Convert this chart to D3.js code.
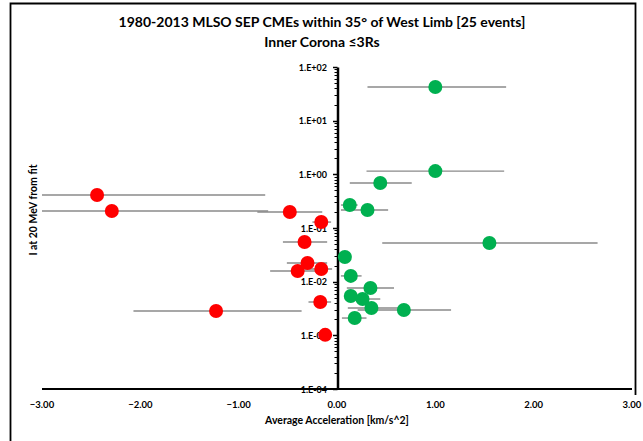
<!DOCTYPE html>
<html>
<head>
<meta charset="utf-8">
<script src="https://cdn.jsdelivr.net/npm/d3@7"></script>
<style>
html,body{margin:0;padding:0;background:#fff;}
svg{display:block;}
text{font-family:"Lato","Open Sans",sans-serif;font-weight:bold;fill:#000;}
</style>
</head>
<body>
<svg id="chart" width="643" height="441"></svg>
<script>
// Data (acceleration km/s^2, I at 20 MeV, error bar low/high in x)
const redX   = [-2.44, -2.29, -0.48, -0.16, -0.33, -0.30, -0.40, -0.16, -0.17, -1.23, -0.12];
const redY   = [0.412, 0.207, 0.199, 0.129, 0.0548, 0.0223, 0.0158, 0.0172, 0.00418, 0.00284, 0.00102];
const redLo  = [-3.00, -3.00, -0.81, -0.25, -0.55, -0.51, -0.68, -0.38, -0.29, -2.07, -0.18];
const redHi  = [-0.73, -0.70, -0.15, -0.06, -0.10, -0.10, -0.22, -0.05, -0.06, -0.36, -0.06];

const greenX  = [1.00, 1.00, 0.44, 0.13, 0.31, 1.55, 0.08, 0.14, 0.34, 0.14, 0.26, 0.35, 0.68, 0.18];
const greenY  = [42.4, 1.15, 0.69, 0.268, 0.217, 0.0526, 0.0288, 0.0128, 0.00762, 0.0054, 0.00475, 0.00324, 0.00296, 0.0021];
const greenLo = [0.31, 0.30, 0.13, 0.04, 0.04, 0.46, 0.06, 0.04, 0.10, 0.08, 0.15, 0.11, 0.21, 0.05];
const greenHi = [1.72, 1.70, 0.76, 0.21, 0.52, 2.65, 0.10, 0.25, 0.58, 0.23, 0.44, 0.62, 1.16, 0.30];

const xTicks = [-3, -2, -1, 0, 1, 2, 3];
const yTicks = [1e2, 1e1, 1e0, 1e-1, 1e-2, 1e-3, 1e-4];
const yTickLabels = ["1.E+02", "1.E+01", "1.E+00", "1.E-01", "1.E-02", "1.E-03", "1.E-04"];
const titleLines = ["1980-2013 MLSO SEP CMEs within 35° of West Limb [25 events]", "Inner Corona ≤3Rs"];
const xLabel = "Average Acceleration [km/s^2]";
const yLabel = "I at 20 MeV from fit";

const svg = d3.select("#chart");

// outer frame
svg.append("path")
  .attr("d", "M10.5,450 L10.5,3.5 L635.5,3.5 L635.5,395")
  .attr("fill", "none").attr("stroke", "#000").attr("stroke-width", 1.8);

const x = d3.scaleLinear().domain([-3, 3]).range([42, 632]);
const y = d3.scaleLog().domain([1e-4, 1e2]).range([389, 67]);

// title
svg.append("text").attr("x", 322).attr("y", 27).attr("text-anchor", "middle")
  .style("font-size", "14px").text(titleLines[0]);
svg.append("text").attr("x", 322).attr("y", 47).attr("text-anchor", "middle")
  .style("font-size", "14px").text(titleLines[1]);

// x axis line
svg.append("line").attr("x1", x(-3)).attr("x2", x(3)).attr("y1", y(1e-4)).attr("y2", y(1e-4))
  .attr("stroke", "#000").attr("stroke-width", 2);

// x tick labels
svg.append("g").selectAll("text").data(xTicks).join("text")
  .attr("x", d => x(d)).attr("y", 408).attr("text-anchor", "middle")
  .style("font-size", "9.5px").text(d => d3.format(".2f")(d));

// y axis
const x0 = x(0);
const yAxis = d3.axisLeft(y).tickValues([]).tickSizeOuter(0);
const yg = svg.append("g").attr("transform", `translate(${x0 + 0.5},0)`).call(yAxis);
yg.select(".domain").attr("stroke", "#000").attr("stroke-width", 2.5);

// minor ticks
const minor = [];
for (let e = -4; e < 2; e++) for (let m = 2; m <= 9; m++) minor.push(m * Math.pow(10, e));
svg.append("g").selectAll("line").data(minor).join("line")
  .attr("x1", x0 - 2.5).attr("x2", x0 + 0.5).attr("y1", d => Math.round(y(d)) + 0.5).attr("y2", d => Math.round(y(d)) + 0.5)
  .attr("stroke", "#000").attr("stroke-width", 1);
svg.append("g").selectAll("line").data(yTicks).join("line")
  .attr("x1", x0 - 4).attr("x2", x0 + 0.5).attr("y1", d => Math.round(y(d)) + 0.5).attr("y2", d => Math.round(y(d)) + 0.5)
  .attr("stroke", "#000").attr("stroke-width", 1.5);

// y tick labels
svg.append("g").selectAll("text").data(yTicks).join("text")
  .attr("x", 327).attr("y", d => y(d) + 3.5).attr("text-anchor", "end")
  .style("font-size", "9px").text((d, i) => yTickLabels[i]);

// axis titles
svg.append("text").attr("x", 337).attr("y", 424).attr("text-anchor", "middle")
  .style("font-size", "10.5px").text(xLabel);
svg.append("text").attr("transform", "translate(37,210) rotate(-90)").attr("text-anchor", "middle")
  .style("font-size", "10.5px").text(yLabel);

function series(xs, ys, lo, hi, color) {
  const g = svg.append("g");
  g.selectAll("line").data(xs).join("line")
    .attr("x1", (d, i) => x(lo[i])).attr("x2", (d, i) => x(hi[i]))
    .attr("y1", (d, i) => y(ys[i])).attr("y2", (d, i) => y(ys[i]))
    .attr("stroke", "#8a8a8a").attr("stroke-width", 1.4);
  g.selectAll("circle").data(xs).join("circle")
    .attr("cx", d => x(d)).attr("cy", (d, i) => y(ys[i])).attr("r", 7)
    .attr("fill", color);
}
series(redX, redY, redLo, redHi, "#ff0000");
series(greenX, greenY, greenLo, greenHi, "#00b050");
</script>
</body>
</html>
